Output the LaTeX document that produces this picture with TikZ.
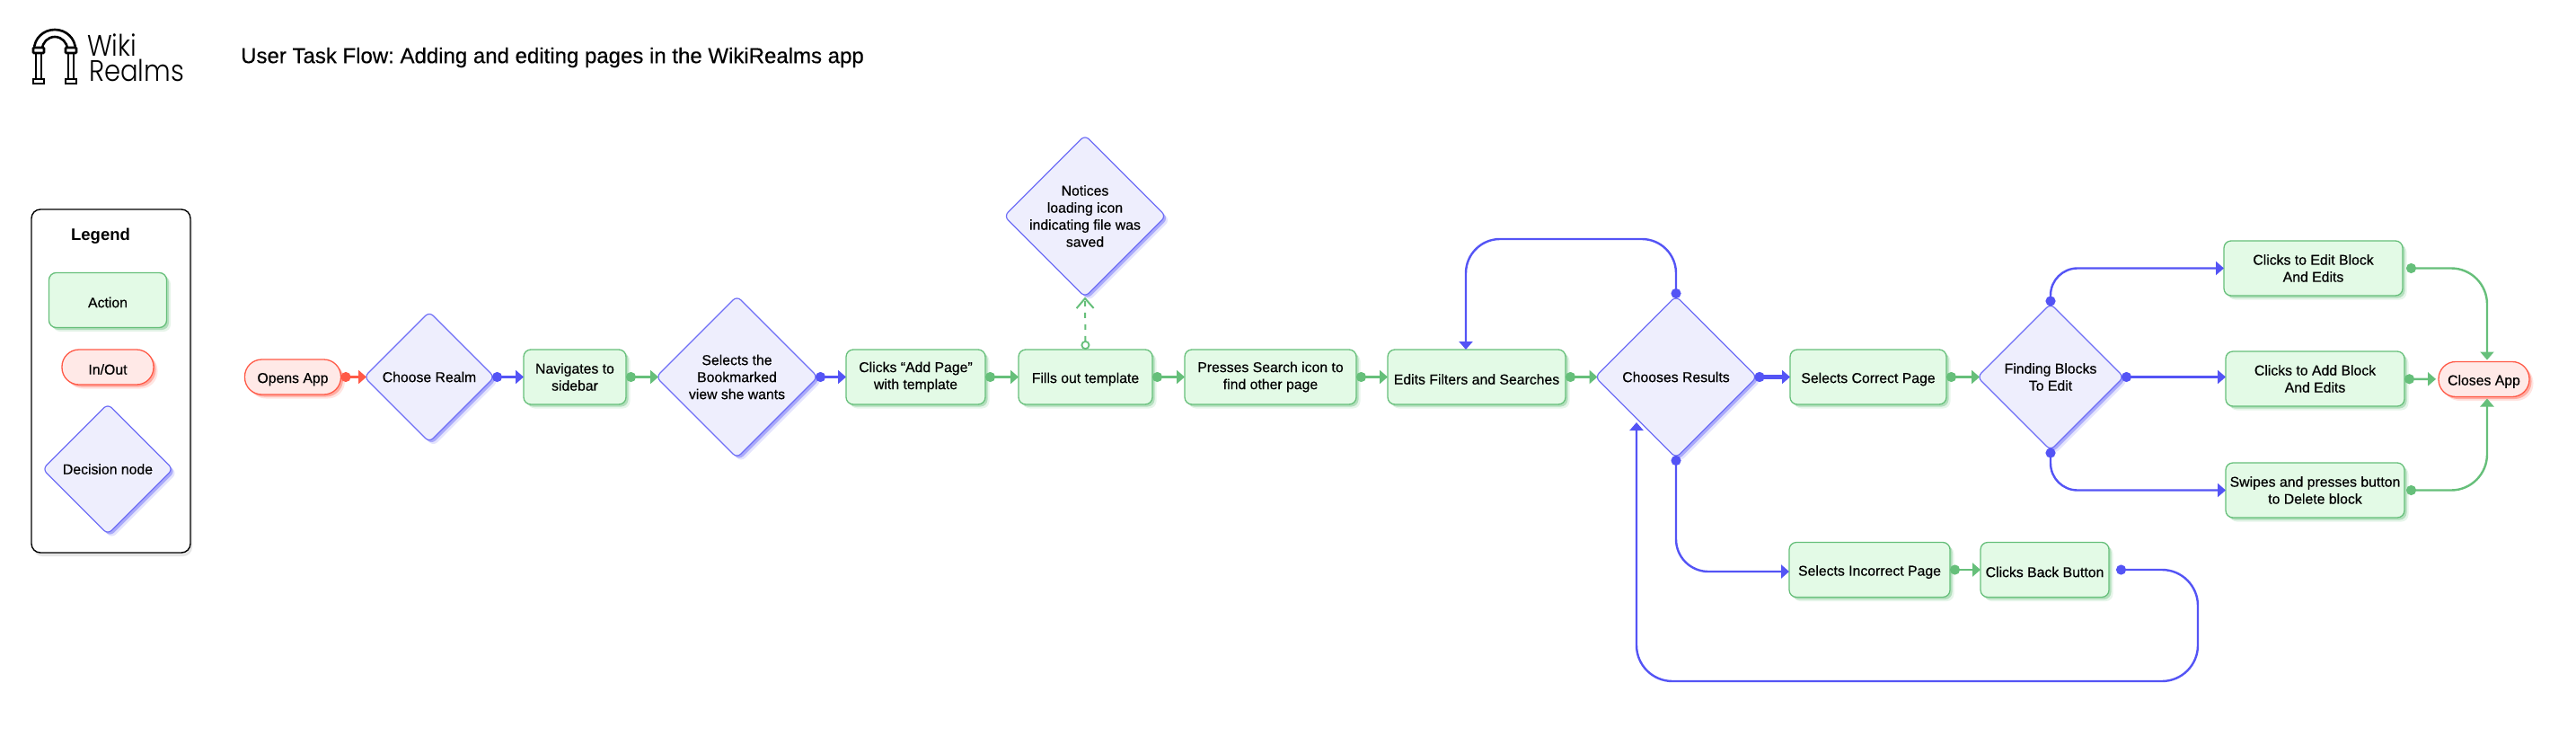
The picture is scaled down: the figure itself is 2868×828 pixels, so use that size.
\documentclass[tikz,border=0pt]{standalone}
\usepackage{fontspec}
\usetikzlibrary{arrows.meta}
\usetikzlibrary{calc,positioning,shadows,shapes.geometric}
\newfontfamily\flowfont{Liberation Sans}[FakeBold=0.35]
\newfontfamily\legendfont{Liberation Sans Bold}
\newfontfamily\logofont{Poppins Light}[FakeStretch=0.88]
\definecolor{flowgreen}{HTML}{66BF7A}
\definecolor{flowblue}{HTML}{5454F5}
\definecolor{flowred}{HTML}{FF5A47}
\definecolor{actfill}{HTML}{E3FAE6}
\definecolor{decfill}{HTML}{EEEEFD}
\definecolor{ioFill}{HTML}{FFE9E7}
\frenchspacing
\tikzset{
  softshadow/.style={drop shadow={shadow xshift=4.5pt,shadow yshift=-4.5pt,fill=#1,opacity=.16},
    drop shadow={shadow xshift=2.5pt,shadow yshift=-2.5pt,fill=#1,opacity=.4}},
  flowtext/.style={font=\flowfont\fontsize{15.8}{19}\selectfont,align=center,text=black,inner sep=0pt,outer sep=0pt},
  actbox/.style={flowtext,rectangle,draw=flowgreen,fill=actfill,line width=1.3pt,rounded corners=8pt,
    minimum height=61pt,execute at begin node={\rule{0pt}{16.5pt}},softshadow=flowgreen},
  iobox/.style={flowtext,rectangle,draw=flowred,fill=ioFill,line width=1.3pt,rounded corners=19pt,
    minimum height=39pt,execute at begin node={\rule{0pt}{16.5pt}},softshadow=flowred},
  decnode/.style={flowtext,diamond,draw=flowblue!85!white,fill=decfill,line width=1.2pt,rounded corners=6pt,
    minimum width=#1,minimum height=#1,softshadow=flowblue},
  conn/.style={line width=2.4pt,-{Triangle[length=9pt,width=15pt]}},
  greenarr/.style={conn,flowgreen,{Circle[length=11pt]}-{Triangle[length=9pt,width=15pt]}},
  bluearr/.style={conn,flowblue,{Circle[length=11pt]}-{Triangle[length=9pt,width=15pt]}},
  redarr/.style={conn,flowred,{Circle[length=11pt]}-{Triangle[length=9pt,width=15pt]}},
  fromdec/.style={shorten <=-2.5pt},
  todec/.style={shorten >=-2.5pt},
}
\begin{document}
\begin{tikzpicture}[x=1pt,y=-1pt]
  \useasboundingbox (0,0) rectangle (2868,828);

  % logo
  \draw[line width=2.6pt] (38,55) arc (180:0:23pt and 22pt);
  \draw[line width=2.6pt] (47,55) arc (180:0:14pt and 14pt);
  \draw[line width=2.6pt,fill=white,rounded corners=1pt] (37,53) rectangle (49,59);
  \draw[line width=2.6pt,fill=white,rounded corners=1pt] (73,53) rectangle (85,59);
  \draw[line width=2pt] (40,59) -- (40,88) (46,59) -- (46,88);
  \draw[line width=2pt] (76,59) -- (76,88) (82,59) -- (82,88);
  \draw[line width=2.6pt,fill=white] (37,88) rectangle (49,93);
  \draw[line width=2.6pt,fill=white] (73,88) rectangle (85,93);
  \node[anchor=base west,inner sep=0pt,font=\logofont\fontsize{33}{34}\selectfont] (logoa) at (97,62) {Wiki};
  \node[anchor=base west,inner sep=0pt,font=\logofont\fontsize{33}{34}\selectfont] (logob) at (99,90) {Realms};

  \node[anchor=west,inner sep=0pt,font=\flowfont\fontsize{24}{28}\selectfont] (title) at (268,64)
    {User Task Flow: Adding and editing pages in the WikiRealms app};

  % legend
  \node[rectangle,draw=black,fill=white,line width=1.4pt,rounded corners=10pt,minimum width=177pt,minimum height=382pt,
    drop shadow={shadow xshift=2pt,shadow yshift=-4pt,fill=black,opacity=.1}] (legend) at (123.5,424) {};
  \node[inner sep=0pt,font=\legendfont\fontsize{18.5}{22}\selectfont] (legendtitle) at (112,263) {Legend};
  \node[actbox,minimum width=131pt] (legact) at (120,334) {Action};
  \node[iobox,minimum width=102pt] (legio) at (120,408.5) {In/Out};
  \node[decnode=145pt] (legdec) at (120,522) {Decision node};

  % main row
  \node[iobox,minimum width=107pt] (opens) at (326,419.5) {Opens App};
  \node[decnode=145pt] (realm) at (478,419.5) {Choose Realm};
  \node[actbox,minimum width=114pt] (navigates) at (640,419.5) {Navigates to\\sidebar};
  \node[decnode=180pt] (bookmark) at (820.5,419.5) {Selects the\\Bookmarked\\view she wants};
  \node[actbox,minimum width=155pt] (addpage) at (1019.5,419.5) {Clicks “Add Page”\\with template};
  \node[actbox,minimum width=149pt] (fills) at (1208.5,419.5) {Fills out template};
  \node[decnode=180pt,inner sep=-8pt] (notices) at (1208,240.5) {Notices\\loading icon\\indicating file was\\saved};
  \node[actbox,minimum width=191pt] (presses) at (1414.5,419.5) {Presses Search icon to\\find other page};
  \node[actbox,minimum width=198pt] (edits) at (1644,419.5) {Edits Filters and Searches};
  \node[decnode=180pt] (chooses) at (1866,419.5) {Chooses Results};
  \node[actbox,minimum width=174pt] (correct) at (2080,419.5) {Selects Correct Page};
  \node[actbox,minimum width=179pt] (incorrect) at (2081.5,634) {Selects Incorrect Page};
  \node[actbox,minimum width=143pt] (backbtn) at (2276.5,634) {Clicks Back Button};
  \node[decnode=163pt] (finding) at (2283,419.5) {Finding Blocks\\To Edit};
  \node[actbox,minimum width=199pt] (editblock) at (2575.5,298.5) {Clicks to Edit Block\\And Edits};
  \node[actbox,minimum width=199pt] (addblock) at (2577.5,421.5) {Clicks to Add Block\\And Edits};
  \node[actbox,minimum width=199pt] (swipes) at (2577.5,545.5) {Swipes and presses button\\to Delete block};
  \node[iobox,minimum width=101pt] (closes) at (2765.5,422) {Closes App};

  % free ends of the loops
  \coordinate (looptop) at (1632,266);
  \coordinate (backright) at (2447,758);
  \coordinate (backleft) at (1822,758);
  \coordinate (backtip) at (1822,470);

  % connectors
  \draw[redarr,todec] (opens) -- (realm);
  \draw[bluearr,fromdec] (realm) -- (navigates);
  \draw[greenarr,todec] (navigates) -- (bookmark);
  \draw[bluearr,fromdec] (bookmark) -- (addpage);
  \draw[greenarr] (addpage) -- (fills);
  \draw[greenarr] (fills) -- (presses);
  \draw[greenarr] (presses) -- (edits);
  \draw[greenarr,todec] (edits) -- (chooses);
  \draw[bluearr,fromdec,line width=4.5pt] (chooses) -- (correct);
  \draw[greenarr,todec] (correct) -- (finding);
  \draw[greenarr] (incorrect) -- (backbtn);
  \draw[bluearr,fromdec] (finding.east) -- (finding.east -| addblock.west);
  \draw[greenarr,shorten >=3pt] (addblock) -- (closes);
  \draw[flowgreen,line width=2pt,dash pattern=on 6pt off 7pt,
    {Circle[open,length=10pt,line width=1.8pt]}-{Straight Barb[length=11pt,width=19pt,line width=2pt]}]
    (fills.north) -- (notices.south);

  \draw[bluearr,fromdec,rounded corners=38pt] (chooses.north) |- (looptop) -- (looptop |- edits.north);
  \draw[bluearr,fromdec,rounded corners=36pt] (chooses.south) |- ([yshift=-2pt]incorrect.west);
  \draw[bluearr,shorten <=8pt,rounded corners=40pt] (backbtn.east) -| (backright) -- (backleft) -- (backtip);
  \draw[bluearr,fromdec,rounded corners=30pt] (finding.north) |- (editblock.west);
  \draw[bluearr,fromdec,rounded corners=30pt] (finding.south) |- (swipes.west);
  \draw[greenarr,shorten <=4pt,shorten >=2pt,rounded corners=40pt] (editblock.east) -| ([xshift=3.5pt]closes.north);
  \draw[greenarr,shorten <=2pt,shorten >=2pt,rounded corners=40pt] (swipes.east) -| ([xshift=3.5pt]closes.south);
\end{tikzpicture}
\end{document}
